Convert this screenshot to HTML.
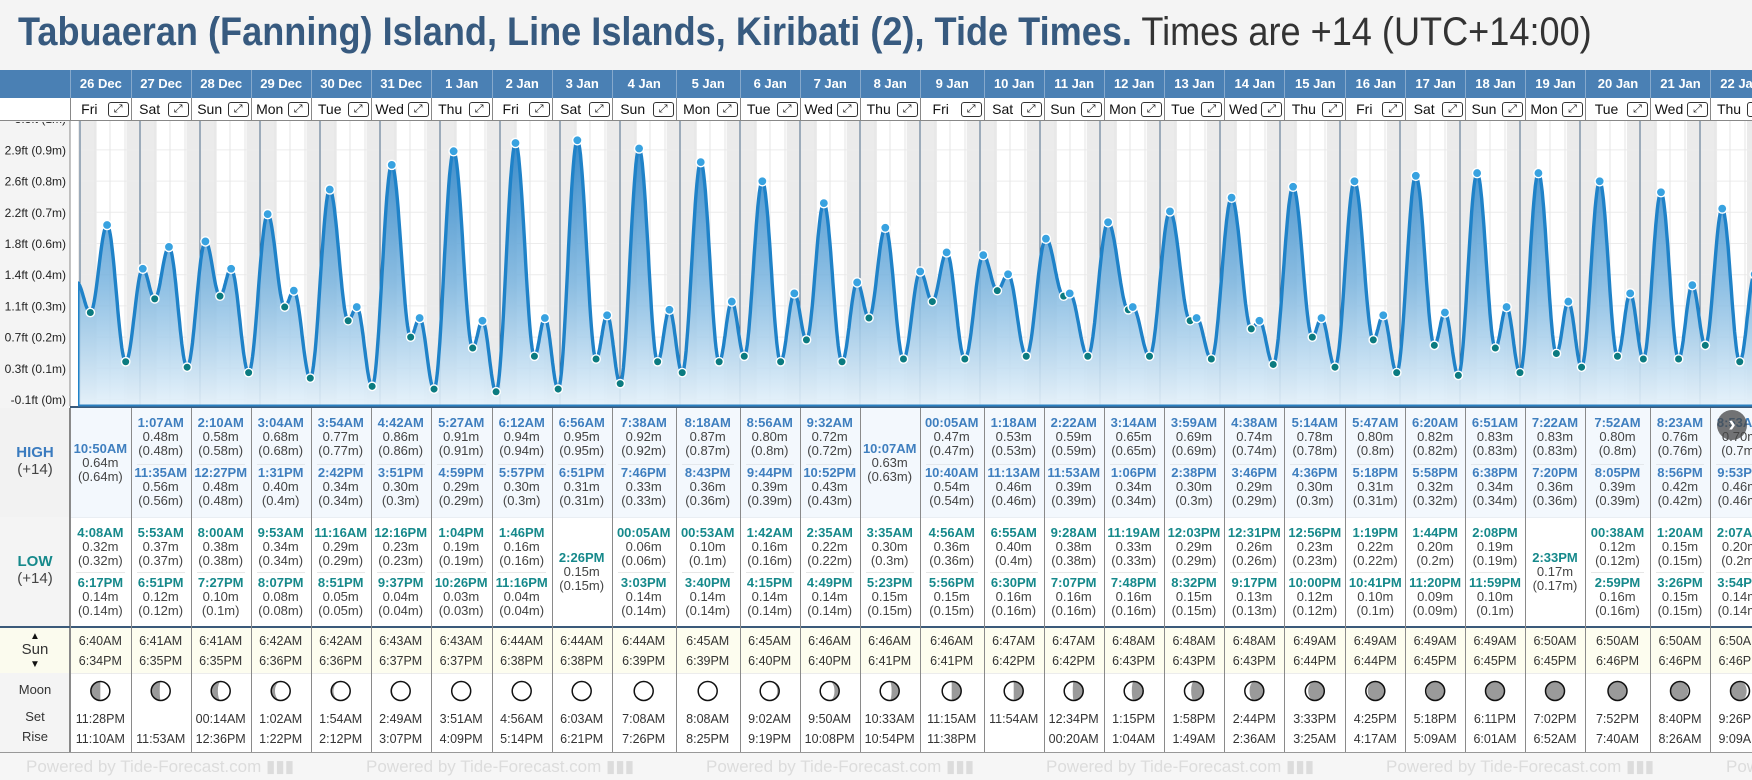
<!DOCTYPE html>
<html><head><meta charset="utf-8">
<style>
*{box-sizing:border-box;margin:0;padding:0}
body{width:1752px;height:780px;overflow:hidden;background:#f4f4f4;font-family:"Liberation Sans",Arial,sans-serif}
#root{position:relative;width:1752px;height:780px;overflow:hidden;background:#f4f4f4}
.abs{position:absolute}
#title{position:absolute;left:18px;top:8px;font-size:40px;color:#375a7f;white-space:nowrap;transform-origin:0 0;line-height:48px}
#title b{font-weight:bold}
#title span{color:#333;font-weight:normal}
</style></head>
<body>
<div id="root">
  <div id="title"><b>Tabuaeran (Fanning) Island, Line Islands, Kiribati (2), Tide Times.</b><span> Times are +14 (UTC+14:00)</span></div>
  <div class="abs" style="left:0;top:70px;width:70px;height:28px;background:#4a80b4"></div>
  <div class="abs" style="left:0;top:98px;width:70px;height:23px;background:#fff;border-bottom:1px solid #888"></div>
  <svg id="chart" class="abs" style="left:0;top:0" width="1752" height="780"></svg>
  <div id="table" class="abs" style="left:0;top:0;width:1752px;height:780px"></div>
</div>
<script>
const days=['26 Dec','27 Dec','28 Dec','29 Dec','30 Dec','31 Dec','1 Jan','2 Jan','3 Jan','4 Jan','5 Jan','6 Jan','7 Jan','8 Jan','9 Jan','10 Jan','11 Jan','12 Jan','13 Jan','14 Jan','15 Jan','16 Jan','17 Jan','18 Jan','19 Jan','20 Jan','21 Jan','22 Jan'];
const dayNames=['Fri','Sat','Sun','Mon','Tue','Wed','Thu','Fri','Sat','Sun','Mon','Tue','Wed','Thu','Fri','Sat','Sun','Mon','Tue','Wed','Thu','Fri','Sat','Sun','Mon','Tue','Wed','Thu'];
const highTimes=[['10:50AM'],['1:07AM','11:35AM'],['2:10AM','12:27PM'],['3:04AM','1:31PM'],['3:54AM','2:42PM'],['4:42AM','3:51PM'],['5:27AM','4:59PM'],['6:12AM','5:57PM'],['6:56AM','6:51PM'],['7:38AM','7:46PM'],['8:18AM','8:43PM'],['8:56AM','9:44PM'],['9:32AM','10:52PM'],['10:07AM'],['00:05AM','10:40AM'],['1:18AM','11:13AM'],['2:22AM','11:53AM'],['3:14AM','1:06PM'],['3:59AM','2:38PM'],['4:38AM','3:46PM'],['5:14AM','4:36PM'],['5:47AM','5:18PM'],['6:20AM','5:58PM'],['6:51AM','6:38PM'],['7:22AM','7:20PM'],['7:52AM','8:05PM'],['8:23AM','8:56PM'],['8:53AM','9:53PM']];
const highVals=[[0.64],[0.48,0.56],[0.58,0.48],[0.68,0.40],[0.77,0.34],[0.86,0.30],[0.91,0.29],[0.94,0.30],[0.95,0.31],[0.92,0.33],[0.87,0.36],[0.80,0.39],[0.72,0.43],[0.63],[0.47,0.54],[0.53,0.46],[0.59,0.39],[0.65,0.34],[0.69,0.30],[0.74,0.29],[0.78,0.30],[0.80,0.31],[0.82,0.32],[0.83,0.34],[0.83,0.36],[0.80,0.39],[0.76,0.42],[0.70,0.46]];
const lowTimes=[['4:08AM','6:17PM'],['5:53AM','6:51PM'],['8:00AM','7:27PM'],['9:53AM','8:07PM'],['11:16AM','8:51PM'],['12:16PM','9:37PM'],['1:04PM','10:26PM'],['1:46PM','11:16PM'],['2:26PM'],['00:05AM','3:03PM'],['00:53AM','3:40PM'],['1:42AM','4:15PM'],['2:35AM','4:49PM'],['3:35AM','5:23PM'],['4:56AM','5:56PM'],['6:55AM','6:30PM'],['9:28AM','7:07PM'],['11:19AM','7:48PM'],['12:03PM','8:32PM'],['12:31PM','9:17PM'],['12:56PM','10:00PM'],['1:19PM','10:41PM'],['1:44PM','11:20PM'],['2:08PM','11:59PM'],['2:33PM'],['00:38AM','2:59PM'],['1:20AM','3:26PM'],['2:07AM','3:54PM']];
const lowVals=[[0.32,0.14],[0.37,0.12],[0.38,0.10],[0.34,0.08],[0.29,0.05],[0.23,0.04],[0.19,0.03],[0.16,0.04],[0.15],[0.06,0.14],[0.10,0.14],[0.16,0.14],[0.22,0.14],[0.30,0.15],[0.36,0.15],[0.40,0.16],[0.38,0.16],[0.33,0.16],[0.29,0.15],[0.26,0.13],[0.23,0.12],[0.22,0.10],[0.20,0.09],[0.19,0.10],[0.17],[0.12,0.16],[0.15,0.15],[0.20,0.14]];
const prevHighTime='10:45PM';
const prevHighVal=0.43;
const sunrise=['6:40AM','6:41AM','6:41AM','6:42AM','6:42AM','6:43AM','6:43AM','6:44AM','6:44AM','6:44AM','6:45AM','6:45AM','6:46AM','6:46AM','6:46AM','6:47AM','6:47AM','6:48AM','6:48AM','6:48AM','6:49AM','6:49AM','6:49AM','6:49AM','6:50AM','6:50AM','6:50AM','6:50AM'];
const sunset=['6:34PM','6:35PM','6:35PM','6:36PM','6:36PM','6:37PM','6:37PM','6:38PM','6:38PM','6:39PM','6:39PM','6:40PM','6:40PM','6:41PM','6:41PM','6:42PM','6:42PM','6:43PM','6:43PM','6:43PM','6:44PM','6:44PM','6:45PM','6:45PM','6:45PM','6:46PM','6:46PM','6:46PM'];
const moonSet=['11:28PM','','00:14AM','1:02AM','1:54AM','2:49AM','3:51AM','4:56AM','6:03AM','7:08AM','8:08AM','9:02AM','9:50AM','10:33AM','11:15AM','11:54AM','12:34PM','1:15PM','1:58PM','2:44PM','3:33PM','4:25PM','5:18PM','6:11PM','7:02PM','7:52PM','8:40PM','9:26PM'];
const moonRise=['11:10AM','11:53AM','12:36PM','1:22PM','2:12PM','3:07PM','4:09PM','5:14PM','6:21PM','7:26PM','8:25PM','9:19PM','10:08PM','10:54PM','11:38PM','','00:20AM','1:04AM','1:49AM','2:36AM','3:25AM','4:17AM','5:09AM','6:01AM','6:52AM','7:40AM','8:26AM','9:09AM'];
const moonGray=[0.5,0.45,0.35,0.2,0.12,0.05,0.03,0,0,0,0.03,0.1,0.25,0.4,0.5,0.5,0.55,0.6,0.65,0.75,0.85,0.9,0.95,1,1,0.97,0.93,0.85];
const moonSide=['L','L','L','L','L','L','L','L','L','L','R','R','R','R','R','R','R','R','R','R','R','R','R','R','R','L','L','L'];
const yTickLabels=['-0.1ft (0m)','0.3ft (0.1m)','0.7ft (0.2m)','1.1ft (0.3m)','1.4ft (0.4m)','1.8ft (0.6m)','2.2ft (0.7m)','2.6ft (0.8m)','2.9ft (0.9m)','3.3ft (1m)'];
</script>
<script>
const colX=[70,130.7,190.7,250.7,310.7,370.7,430.7,491.7,551.7,611.7,675.7,739.7,799.7,859.7,919.7,983.7,1043.7,1103.7,1163.7,1224.3,1284.3,1345.3,1405.3,1465,1525,1585,1650,1710,1770];
const NS='http://www.w3.org/2000/svg';
const svg=document.getElementById('chart');
const table=document.getElementById('table');
const PT=121,PB=406,PL=78;
function hrs(s){const m=s.match(/(\d+):(\d+)(AM|PM)/);let h=+m[1]%12;if(m[3]==='PM')h+=12;return h+(+m[2])/60;}
function xT(d,h){return 80+60*(d+h/24);}
function yV(v){return 400-273.4*v;}
function yTick(k){return 399.5-31.2*k;}
function se(tag,attrs,parent){const e=document.createElementNS(NS,tag);for(const k in attrs)e.setAttribute(k,attrs[k]);(parent||svg).appendChild(e);return e;}

const defs=se('defs',{});
const g=se('linearGradient',{id:'fillg',x1:0,y1:130,x2:0,y2:406,gradientUnits:'userSpaceOnUse'},defs);
se('stop',{offset:'0','stop-color':'#2a82c6','stop-opacity':'0.95'},g);
se('stop',{offset:'0.55','stop-color':'#79b4df','stop-opacity':'0.85'},g);
se('stop',{offset:'1','stop-color':'#e4f1fa','stop-opacity':'0.9'},g);
const cp=se('clipPath',{id:'plotclip'},defs);
se('rect',{x:PL,y:PT,width:1752-PL,height:PB-PT},cp);
const cp2=se('clipPath',{id:'axisclip'},defs);
se('rect',{x:0,y:PT+1,width:70,height:PB-PT},cp2);

const axbg=se('rect',{x:0,y:PT,width:70,height:PB-PT+2,fill:'#f4f4f4'});


const plotbg=se('rect',{x:70,y:PT,width:1682,height:PB-PT,fill:'#ffffff'});


se('line',{x1:70,y1:PT,x2:70,y2:PB,stroke:'#888','stroke-width':1});

const plot=se('g',{'clip-path':'url(#plotclip)'});
for(let d=-1;d<days.length;d++){
  const ss=d<0?hrs(sunset[0]):hrs(sunset[d]);
  const sr=d+1<days.length?hrs(sunrise[d+1]):hrs(sunrise[days.length-1]);
  const x1=xT(d,ss),x2=xT(d+1,sr);
  const r=se('rect',{x:x1,y:PT,width:x2-x1,height:PB-PT,fill:'#ebebeb'},plot);
  
  
}
for(let k=0;k<yTickLabels.length;k++){
  const y=yTick(k);
  se('line',{x1:70,y1:y,x2:1752,y2:y,stroke:'#ececec','stroke-width':1},plot);
}
for(let d=0;d<=days.length;d++){
  for(let q=1;q<4;q++){const x=xT(d,q*6);se('line',{x1:x,y1:PT,x2:x,y2:PB,stroke:'#e6e6e6','stroke-width':1},plot);}
  const x=xT(d,0);
  const ml=se('line',{x1:x,y1:PT,x2:x,y2:PB,stroke:'#4d6b88','stroke-width':1},plot);
  
  
}
const ext=[{t:-1+hrs(prevHighTime)/24,v:prevHighVal,type:'H',show:false}];
for(let d=0;d<days.length;d++){
  highTimes[d].forEach((s,i)=>ext.push({t:d+hrs(s)/24,v:highVals[d][i],type:'H',show:true}));
  lowTimes[d].forEach((s,i)=>ext.push({t:d+hrs(s)/24,v:lowVals[d][i],type:'L',show:true}));
}
ext.sort((a,b)=>a.t-b.t);
let pts=[];
for(let i=0;i<ext.length-1;i++){
  const a=ext[i],b=ext[i+1];const n=24;
  for(let j=0;j<n;j++){const f=j/n;const t=a.t+(b.t-a.t)*f;const v=a.v+(b.v-a.v)*(1-Math.cos(Math.PI*f))/2;pts.push([80+60*t,yV(v)]);}
}
const last=ext[ext.length-1];pts.push([80+60*last.t,yV(last.v)]);
pts=pts.filter(p=>p[0]>=PL-1);
const ln='M'+pts.map(p=>p[0].toFixed(1)+','+p[1].toFixed(1)).join('L');
const area=se('path',{d:ln+'L'+pts[pts.length-1][0].toFixed(1)+','+PB+'L'+PL+','+PB+'Z',fill:'url(#fillg)'},plot);


const line=se('path',{d:ln,fill:'none',stroke:'#1f82c8','stroke-width':3.4,'stroke-linejoin':'round'},plot);


se('line',{x1:PL+0.5,y1:pts[0][1],x2:PL+0.5,y2:PB,stroke:'#1f82c8','stroke-width':2},plot);
ext.forEach(e=>{
  if(!e.show)return;
  const c=se('circle',{cx:80+60*e.t,cy:yV(e.v),r:e.type==='H'?4.6:4.2,fill:e.type==='H'?'#38a2e0':'#0b7b80',stroke:'#fff','stroke-width':1.4},plot);
  
  
});
const bl=se('line',{x1:PL,y1:PB-0.5,x2:1752,y2:PB-0.5,stroke:'#2a7fc0','stroke-width':2});


const axg=se('g',{'clip-path':'url(#axisclip)'});
yTickLabels.forEach((s,k)=>{
  const t=se('text',{x:66,y:yTick(k)+4.5,'text-anchor':'end','font-size':12,fill:'#222','font-family':'Liberation Sans, sans-serif'},axg);
  t.textContent=s;
  
  
});

function div(style,text,parent){const e=document.createElement('div');e.style.cssText=style;if(text!==undefined)e.textContent=text;(parent||table).appendChild(e);return e;}
days.forEach((d,i)=>{
  const x=colX[i],w=colX[i+1]-colX[i];
  const h=div(`position:absolute;left:${x}px;top:70px;width:${w}px;height:28px;background:#4a80b4;border-left:1px solid #86a9cc;color:#fff;font-weight:bold;font-size:13px;line-height:28px;text-align:center`,d);
  
  
  const r=div(`position:absolute;left:${x}px;top:98px;width:${w}px;height:23px;background:#fff;border-left:1px solid #888;border-bottom:1px solid #888`);
  
  
  const n=div(`position:absolute;left:0;top:0;width:${w-24}px;text-align:center;font-size:14px;line-height:23px;color:#111`,dayNames[i],r);
  
  
  const b=div(`position:absolute;left:${w-24}px;top:4px;width:21px;height:15px;border:1px solid #333;border-radius:3px;background:#fff;font-size:11px;line-height:13px;text-align:center;color:#111`,'⤢',r);
  
  
});
const lb=[['HIGH',454,'bold 15px','#3a7bbf'],['(+14)',471,'15px','#444'],['LOW',563,'bold 15px','#16898b'],['(+14)',580,'15px','#444'],['Sun',651,'15px','#333'],['Moon',692,'13px','#333'],['Set',719,'13px','#333'],['Rise',739,'13px','#333']];
const bgs=[[408,517,'#f3f8fd','#f2f2f2','high-tide-row'],[517,626,'#ffffff','#f4f4f4','low-tide-row'],[628,673,'#fdfdef','#fbfbee','sun-row'],[673,752,'#ffffff','#f4f4f4','moon-row']];
bgs.forEach(b=>{
  const e=div(`position:absolute;left:70px;top:${b[0]}px;width:1682px;height:${b[1]-b[0]}px;background:${b[2]}`);
  
  
  const l=div(`position:absolute;left:0;top:${b[0]}px;width:70px;height:${b[1]-b[0]}px;background:${b[3]};border-right:1px solid #888`);
  
  
});
div('position:absolute;left:0;top:406px;width:1752px;height:2px;background:#3b5a7a');
div('position:absolute;left:0;top:626px;width:1752px;height:2px;background:#3b5a7a');
div('position:absolute;left:70px;top:517px;width:1682px;height:1px;background:#e9eef3');
div('position:absolute;left:70px;top:673px;width:1682px;height:1px;background:#ececec');
div('position:absolute;left:0;top:752px;width:1752px;height:1px;background:#999');
lb.forEach(l=>{
  const e=div(`position:absolute;left:0;width:70px;text-align:center;top:${l[1]-10}px;height:20px;line-height:20px;font:${l[2]} "Liberation Sans",sans-serif;color:${l[3]}`,l[0]);
  
  
});
div('position:absolute;left:0;width:70px;text-align:center;top:632px;font-size:10px;line-height:10px;color:#111','▲');
div('position:absolute;left:0;width:70px;text-align:center;top:660px;font-size:10px;line-height:10px;color:#111','▼');

function tideEntry(x,w,cy,time,val,col){
  const t=div(`position:absolute;left:${x}px;width:${w}px;top:${cy-7}px;text-align:center;font:bold 13px "Liberation Sans",sans-serif;line-height:14px;color:${col}`,time);
  
  
  const v=div(`position:absolute;left:${x}px;width:${w}px;top:${cy+7}px;text-align:center;font-size:13px;line-height:14px;color:#444`,val.toFixed(2)+'m');
  
  
  const v2=div(`position:absolute;left:${x}px;width:${w}px;top:${cy+21}px;text-align:center;font-size:13px;line-height:14px;color:#444`,'('+parseFloat(val.toFixed(2))+'m)');
  
  
}
function moonPath(cx,cy,r,f,side){
  if(f<=0)return '';
  const k=Math.abs(1-2*f)*r;
  if(side==='R'){
    return `M${cx},${cy-r}A${r},${r} 0 0 1 ${cx},${cy+r}A${k},${r} 0 0 ${f<0.5?0:1} ${cx},${cy-r}Z`;
  }
  return `M${cx},${cy-r}A${r},${r} 0 0 0 ${cx},${cy+r}A${k},${r} 0 0 ${f<0.5?1:0} ${cx},${cy-r}Z`;
}
days.forEach((d,i)=>{
  const x=colX[i],w=colX[i+1]-colX[i];
  const cb=div(`position:absolute;left:${x}px;top:408px;width:1px;height:344px;background:#8a8a8a`);
  
  
  if(highTimes[i].length===2){
    tideEntry(x,w,423,highTimes[i][0],highVals[i][0],'#3f7fbf');
    div(`position:absolute;left:${x+6}px;width:${w-12}px;top:464px;height:1px;background:#e4e8ec`);
    tideEntry(x,w,473,highTimes[i][1],highVals[i][1],'#3f7fbf');
  } else tideEntry(x,w,448.5,highTimes[i][0],highVals[i][0],'#3f7fbf');
  if(lowTimes[i].length===2){
    tideEntry(x,w,532.5,lowTimes[i][0],lowVals[i][0],'#16898b');
    div(`position:absolute;left:${x+6}px;width:${w-12}px;top:572px;height:1px;background:#e6e6e6`);
    tideEntry(x,w,582.5,lowTimes[i][1],lowVals[i][1],'#16898b');
  } else tideEntry(x,w,557.5,lowTimes[i][0],lowVals[i][0],'#16898b');
  const s1=div(`position:absolute;left:${x}px;width:${w}px;top:633px;text-align:center;font-size:12.5px;line-height:16px;color:#333`,sunrise[i]);
  
  
  const s2=div(`position:absolute;left:${x}px;width:${w}px;top:653px;text-align:center;font-size:12.5px;line-height:16px;color:#333`,sunset[i]);
  
  
  const m1=div(`position:absolute;left:${x}px;width:${w}px;top:711px;text-align:center;font-size:12.5px;line-height:16px;color:#333`,moonSet[i]);
  
  
  const m2=div(`position:absolute;left:${x}px;width:${w}px;top:731px;text-align:center;font-size:12.5px;line-height:16px;color:#333`,moonRise[i]);
  
  
  const cx=x+w/2,cy=691,r=9.5;
  const mc=se('circle',{cx:cx,cy:cy,r:r,fill:'#fff',stroke:'none'});
  
  
  const p=moonPath(cx,cy,r,moonGray[i],moonSide[i]);
  if(p)se('path',{d:p,fill:'#9a9a9a'});
  se('circle',{cx:cx,cy:cy,r:r,fill:'none',stroke:'#111','stroke-width':1.5});
});
document.getElementById('root').appendChild(svg);
svg.style.pointerEvents='none';
const ft=div('position:absolute;left:0;top:753px;width:1752px;height:27px;background:#f6f6f6;overflow:hidden');


for(let k=-1;k<6;k++){
  const f=div(`position:absolute;left:${26+340*k}px;top:4px;font-size:17px;line-height:20px;color:#dcdcdc;white-space:nowrap`,'Powered by Tide-Forecast.com ▮▮▮',ft);
  
  
}
const nb=div('position:absolute;left:1717px;top:410px;width:30px;height:30px;border-radius:15px;background:rgba(70,70,70,0.75);color:#fff;font-size:22px;line-height:28px;text-align:center;font-weight:bold','›');


document.getElementById('root').appendChild(nb);
const tt=document.getElementById('title');
const tw=tt.scrollWidth;
tt.style.transform=`scaleX(${1574/tw})`;
</script>
</body></html>
